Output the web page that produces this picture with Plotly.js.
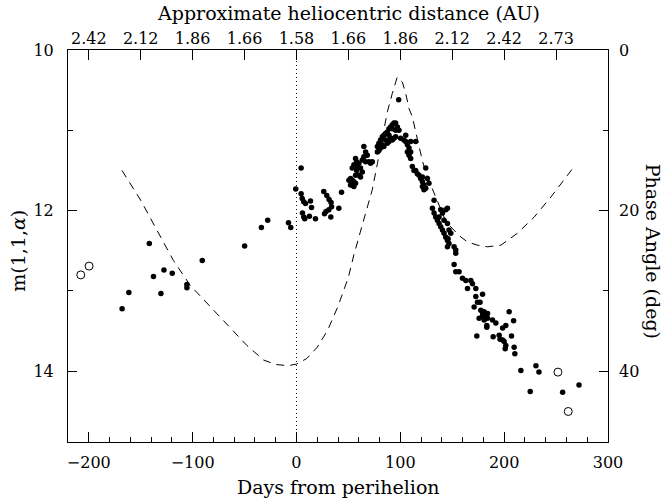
<!DOCTYPE html>
<html><head><meta charset="utf-8">
<script src="https://cdn.plot.ly/plotly-3.0.1.min.js"></script>
<style>html,body{margin:0;padding:0;background:#fff;}</style>
</head><body>
<div id="chart" style="width:665px;height:499px;"></div>
<script>
// Filled points: days from perihelion and m(1,1,alpha)
const filledDays = [
 -167.9,-161.4,-141.7,-137.7,-130.5,-127.6,-119.6,-105.5,-105.5,-90.7,-49.9,-33.8,-27.7,-7.7,-5.5,
 -0.7,4.5,4.5,5.5,7.0,8.7,13.5,14.5,5.8,7.0,8.0,12.5,18.3,26.3,29.2,31.4,33.3,33.8,31.2,28.5,27.0,33.1,40.8,43.4,
 52.1,50.5,53.7,55.3,52.1,54.7,55.3,56.9,57.9,58.6,60.1,61.7,63.4,60.1,56.9,61.7,56.9,57.9,53.7,55.3,64.9,66.6,68.2,64.9,63.4,66.6,69.8,71.4,73.0,
 77.9,79.4,81.0,82.7,84.2,85.9,87.5,89.1,90.7,92.3,93.9,95.5,97.2,98.7,95.5,92.3,89.1,85.9,81.0,79.4,77.9,95.5,92.3,89.1,90.7,93.9,87.5,84.2,82.7,98.4,
 100.3,103.5,105.2,105.2,106.8,108.4,110.0,106.8,108.4,110.0,110.0,114.8,111.6,113.2,114.8,116.4,118.0,119.6,121.3,122.8,124.5,122.8,124.5,126.1,127.6,121.3,121.3,
 132.5,130.9,132.5,134.1,135.7,137.3,138.9,140.6,142.1,143.8,145.4,146.9,145.4,151.8,153.4,143.8,145.4,140.6,142.1,145.4,146.9,148.6,138.9,137.3,146.0,153.4,
 151.8,153.4,156.6,159.9,163.1,167.9,169.5,164.7,172.7,179.2,172.7,174.3,171.1,176.8,177.5,179.2,180.7,184.0,175.9,179.2,182.3,184.0,180.7,183.3,183.3,
 188.8,192.0,198.5,201.6,204.8,209.1,173.7,189.4,195.2,196.1,198.5,200.0,201.6,201.0,207.1,209.6,210.3,216.1,230.6,233.5,225.1,256.3,272.1
];
const filledMag = [
 13.22,13.02,12.41,12.82,13.03,12.74,12.78,12.92,12.96,12.62,12.44,12.21,12.12,12.15,12.21,
 11.73,11.47,11.79,11.85,11.89,11.91,11.88,11.96,12.03,12.08,12.10,12.07,12.10,11.76,11.81,11.86,11.90,11.95,11.99,12.01,12.04,12.08,11.97,11.77,
 11.60,11.62,11.62,11.64,11.68,11.69,11.70,11.56,11.50,11.45,11.41,11.47,11.52,11.56,11.66,11.58,11.35,11.39,11.47,11.43,11.20,11.27,11.31,11.33,11.37,11.39,11.39,11.41,11.39,
 11.20,11.16,11.12,11.08,11.06,11.04,11.02,10.98,10.96,10.93,10.91,10.91,10.96,11.00,11.08,11.12,11.14,11.12,11.22,11.25,11.27,11.00,10.98,11.06,11.10,11.10,11.16,11.20,11.18,10.62,
 11.10,11.12,11.06,11.14,11.18,11.22,11.27,11.27,11.31,11.35,11.14,11.14,11.45,11.50,11.50,11.54,11.56,11.60,11.64,11.68,11.72,11.74,11.47,11.60,11.66,11.70,11.58,
 11.87,11.97,12.03,12.08,12.12,12.16,12.20,12.24,12.28,12.33,12.37,12.41,12.45,12.45,12.49,11.99,11.97,12.03,12.12,12.16,12.24,12.28,11.99,12.08,12.35,12.53,
 12.67,12.76,12.76,12.84,12.87,12.87,12.91,12.97,12.97,13.04,13.07,13.14,13.20,13.14,13.24,13.27,13.26,13.28,13.34,13.31,13.31,13.34,13.36,13.43,13.45,
 13.36,13.40,13.46,13.43,13.26,13.37,13.56,13.57,13.55,13.60,13.61,13.63,13.68,13.72,13.56,13.70,13.78,13.99,13.93,14.01,14.25,14.26,14.17
];
// Open points
const openDays = [-207.7, -199.7, 251.8, 261.7];
const openMag = [12.80, 12.69, 14.01, 14.50];
// Phase angle curve (deg)
const phaseDays = [-168,-150,-134.5,-118.5,-102.3,-86.2,-63.7,-47.6,-31.6,-20,-8,0,10,20,30,40,50,55.3,64,73,78,82.7,87.5,92.3,97,102,105.2,108.4,111.6,115,118.1,121.5,126.1,131,135.7,142.1,148.6,156.6,164.7,174.4,184,196.8,212.9,228.9,245,257.8,267.5];
const phaseAngle = [15.0,18.7,22.4,26.2,29.3,31.5,34.5,36.8,38.6,39.15,39.3,39.1,38.4,37.0,34.9,31.9,28.3,25.5,21.5,17.4,14.1,10.8,7.7,5.4,3.4,4.0,5.4,7.3,8.3,10.3,12.2,13.9,15.8,17.3,18.7,20.8,22.0,23.1,23.9,24.3,24.5,24.3,22.8,20.8,18.3,16.2,14.5];
// Top axis: approximate heliocentric distance
const topTickDays = [-200,-150,-100,-50,0,50,100,150,200,250];
const topTickLabels = ['2.42','2.12','1.86','1.66','1.58','1.66','1.86','2.12','2.42','2.73'];

const FONT = 'DejaVu Serif, serif';
const traces = [
  {x: phaseDays, y: phaseAngle, xaxis:'x', yaxis:'y2', mode:'lines', type:'scatter',
   line:{color:'#000', width:1, dash:'8px,6px'}, hoverinfo:'skip'},
  {x: filledDays, y: filledMag, xaxis:'x', yaxis:'y', mode:'markers', type:'scatter',
   marker:{symbol:'circle', size:5.5, color:'#000'}},
  {x: openDays, y: openMag, xaxis:'x', yaxis:'y', mode:'markers', type:'scatter',
   marker:{symbol:'circle-open', size:8, color:'#000', line:{width:1, color:'#000'}}},
  {x: topTickDays, y: topTickDays.map(()=>null), xaxis:'x2', yaxis:'y', mode:'markers', type:'scatter',
   showlegend:false, hoverinfo:'skip'}
];
const tickFont = {family: FONT, size: 16, color:'#000'};
const titleFont = {family: FONT, size: 19, color:'#000'};
const layout = {
  width:665, height:499,
  margin:{l:68, r:57, t:50, b:57, pad:0},
  paper_bgcolor:'#fff', plot_bgcolor:'#fff',
  showlegend:false,
  font:{family: FONT, color:'#000'},
  xaxis:{range:[-220,300], tick0:0, dtick:100, ticks:'inside', ticklen:10, tickwidth:1, tickcolor:'#000',
    minor:{dtick:20, ticks:'inside', ticklen:5, tickwidth:1, tickcolor:'#000'},
    showline:true, linecolor:'#000', linewidth:1, mirror:true, showgrid:false, zeroline:false,
    tickfont:tickFont, ticklabelstandoff:6},
  xaxis2:{range:[-220,300], overlaying:'x', side:'top', tickmode:'array', tickvals:topTickDays, ticktext:topTickLabels,
    ticks:'inside', ticklen:10, tickwidth:1, tickcolor:'#000', showline:false, showgrid:false, zeroline:false,
    tickfont:tickFont, ticklabelstandoff:2},
  yaxis:{range:[14.88,10], tick0:10, dtick:2, ticks:'inside', ticklen:9, tickwidth:1, tickcolor:'#000',
    minor:{dtick:1, ticks:'inside', ticklen:5, tickwidth:1, tickcolor:'#000'},
    showline:true, linecolor:'#000', linewidth:1, mirror:true, showgrid:false, zeroline:false,
    tickfont:tickFont, ticklabelstandoff:10},
  yaxis2:{range:[48.8,0], overlaying:'y', side:'right', tick0:0, dtick:20, ticks:'inside', ticklen:9, tickwidth:1, tickcolor:'#000',
    minor:{dtick:10, ticks:'inside', ticklen:5, tickwidth:1, tickcolor:'#000'},
    showline:false, showgrid:false, zeroline:false, tickfont:tickFont, ticklabelstandoff:10},
  shapes:[{type:'line', xref:'x', yref:'paper', x0:0, x1:0, y0:0, y1:1, line:{color:'#000', width:1, dash:'1px,3px'}}],
  annotations:[
    {text:'Approximate heliocentric distance (AU)', xref:'paper', yref:'paper', x:0.519, y:1, yshift:37,
     xanchor:'center', yanchor:'middle', showarrow:false, font:titleFont},
    {text:'Days from perihelion', xref:'paper', yref:'paper', x:0.5, y:0, yshift:-45,
     xanchor:'center', yanchor:'middle', showarrow:false, font:titleFont},
    {text:'m(1,1,<i>α</i>)', xref:'paper', yref:'paper', x:0, xshift:-50, y:0.488,
     xanchor:'center', yanchor:'middle', textangle:-90, showarrow:false, font:titleFont},
    {text:'Phase Angle (deg)', xref:'paper', yref:'paper', x:1, xshift:45, y:0.488,
     xanchor:'center', yanchor:'middle', textangle:90, showarrow:false, font:titleFont}
  ]
};
Plotly.newPlot('chart', traces, layout, {displayModeBar:false, staticPlot:true});
</script>
</body></html>
